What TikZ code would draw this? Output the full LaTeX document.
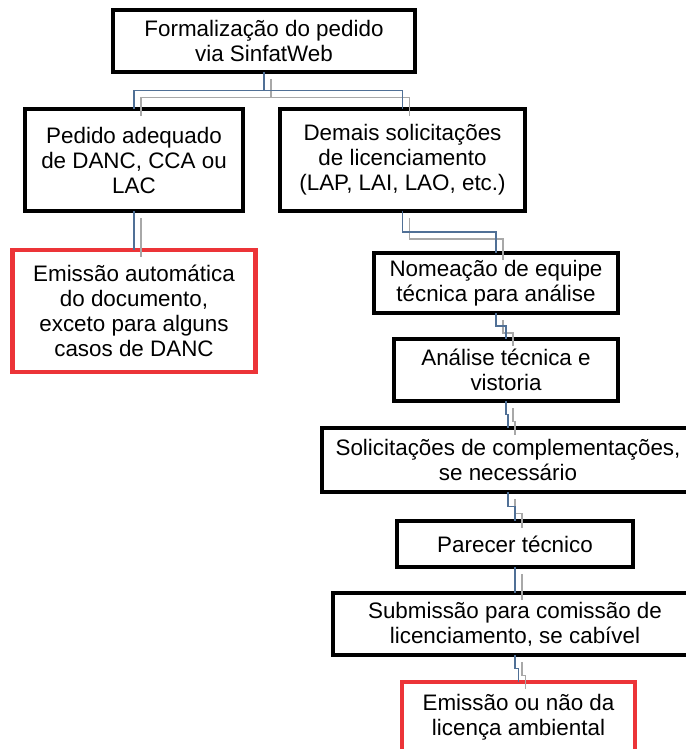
\documentclass[tikz,border=0pt]{standalone}
\usepackage{fontspec}
\setmainfont{Liberation Sans}
\usetikzlibrary{calc}
\definecolor{boxred}{RGB}{236,52,56}
\definecolor{lineblue}{RGB}{80,112,150}
\definecolor{linegrey}{RGB}{168,168,168}
\tikzset{
  box/.style={draw=black, line width=4.5pt, inner sep=0pt, outer sep=0pt,
    align=center, font=\fontsize{22.4}{25}\selectfont, text=black},
  redbox/.style={box, draw=boxred},
  blueline/.style={draw=lineblue, line width=1.3pt},
  greyline/.style={draw=linegrey, line width=1.3pt}
}
\newcommand\conn[2]{%
  \draw[greyline] ([shift={(7pt,-7pt)}]#1.south) |- ($(#1.south)!0.5!(#2.north)+(7pt,-7pt)$) -| ([shift={(7pt,-7pt)}]#2.north);
  \draw[blueline] (#1.south) |- ($(#1.south)!0.5!(#2.north)$) -| (#2.north);
}
\begin{document}
\begin{tikzpicture}[x=1pt,y=-1pt]
\useasboundingbox (0,0) rectangle (685,749);
\node[box, minimum width=302pt, minimum height=62pt] (top) at (264,41) {Formalização do pedido\\via SinfatWeb};
\node[box, minimum width=218pt, minimum height=102pt] (ped) at (134,160) {Pedido adequado\\de DANC, CCA ou\\LAC};
\node[box, minimum width=245pt, minimum height=102pt] (dem) at (402.5,160) {Demais solicitações\\de licenciamento\\(LAP, LAI, LAO, etc.)};
\node[redbox, minimum width=243pt, minimum height=122pt] (auto) at (134,311) {Emissão automática\\do documento,\\exceto para alguns\\casos de DANC};
\node[box, minimum width=244pt, minimum height=60pt] (nom) at (496,283) {Nomeação de equipe\\técnica para análise};
\node[box, minimum width=224pt, minimum height=62pt] (ana) at (506,370) {Análise técnica e\\vistoria};
\node[box, minimum width=372pt, minimum height=64pt] (sol) at (508,460) {Solicitações de complementações,\\se necessário};
\node[box, minimum width=236pt, minimum height=46pt] (par) at (515,544) {Parecer técnico};
\node[box, minimum width=364pt, minimum height=62pt] (sub) at (515,624) {Submissão para comissão de\\licenciamento, se cabível};
\node[redbox, minimum width=233pt, minimum height=70pt] (fin) at (518.5,717) {Emissão ou não da\\licença ambiental};
\conn{top}{ped}
\conn{top}{dem}
\conn{ped}{auto}
\conn{dem}{nom}
\conn{nom}{ana}
\conn{ana}{sol}
\conn{sol}{par}
\conn{par}{sub}
\conn{sub}{fin}
\end{tikzpicture}
\end{document}
